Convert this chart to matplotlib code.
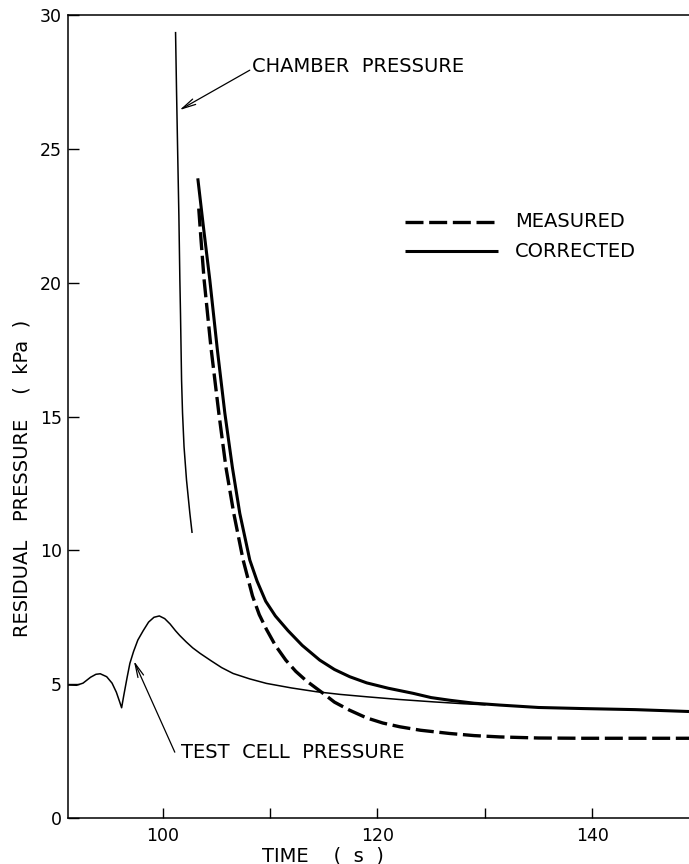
import matplotlib
matplotlib.use("Agg")
import matplotlib.pyplot as plt
from matplotlib.lines import Line2D

plt.rcParams["font.family"] = ["DejaVu Sans"]

# Chamber pressure trace (s, kPa)
chamber_t = [101.21, 101.30, 101.40, 101.52, 101.61, 101.67, 101.77, 101.86,
             102.00, 102.23, 102.54, 102.75]
chamber_p = [29.37, 27.20, 25.03, 22.50, 20.13, 18.85, 16.36, 15.13,
             13.87, 12.63, 11.39, 10.65]

# Test cell pressure trace
cell_t = [91.2, 92.0, 92.6, 93.3, 93.8, 94.2, 94.8, 95.3, 95.7, 96.0, 96.19,
          96.4, 96.7, 96.96, 97.3, 97.7, 98.2, 98.7, 99.2, 99.7, 100.2, 100.7,
          101.2, 101.6, 102.2, 102.8, 103.5, 104.5, 105.5, 106.57, 108.1,
          109.67, 112.0, 114.3, 116.5, 119.0, 122.0, 125.2, 128.0, 130.0]
cell_p = [4.97, 4.96, 5.04, 5.26, 5.37, 5.39, 5.28, 5.04, 4.70, 4.35, 4.12,
          4.60, 5.25, 5.78, 6.22, 6.65, 7.00, 7.32, 7.50, 7.55, 7.45, 7.25,
          7.00, 6.82, 6.58, 6.36, 6.15, 5.88, 5.62, 5.40, 5.20,
          5.03, 4.86, 4.72, 4.62, 4.53, 4.43, 4.34, 4.27, 4.23]

# Residual pressure, measured
measured_t = [103.37, 103.60, 103.87, 104.50, 105.24, 105.90, 106.63, 107.50,
              108.37, 109.00, 109.67, 110.50, 111.47, 112.40, 113.40, 114.94,
              116.00, 117.40, 119.00, 120.50, 122.07, 124.00, 126.70, 129.00,
              131.40, 135.00, 139.10, 149.00]
measured_p = [22.77, 21.50, 20.10, 17.60, 15.12, 13.10, 11.38, 9.64,
              8.30, 7.60, 7.05, 6.45, 5.90, 5.48, 5.12, 4.66,
              4.33, 4.03, 3.74, 3.55, 3.41, 3.28, 3.16, 3.08,
              3.03, 2.99, 2.98, 2.98]

# Residual pressure, corrected
corrected_t = [103.28, 103.80, 104.40, 105.10, 105.80, 106.50, 107.19, 108.12,
               108.80, 109.60, 110.50, 111.68, 113.00, 114.63, 116.00, 117.42,
               119.00, 121.00, 123.31, 125.00, 126.74, 129.00, 131.40, 135.00,
               139.10, 144.00, 149.00]
corrected_p = [23.90, 22.10, 20.10, 17.50, 15.12, 13.10, 11.38, 9.64,
               8.85, 8.10, 7.55, 7.00, 6.45, 5.90, 5.55, 5.28,
               5.05, 4.85, 4.66, 4.50, 4.40, 4.29, 4.22, 4.13,
               4.09, 4.05, 3.98]

x_ticks_major = [100, 120, 140]
x_ticks_minor = [110, 130]
y_ticks = [0, 5, 10, 15, 20, 25, 30]

fig = plt.figure(figsize=(6.89, 8.64), dpi=100)
ax = fig.add_axes([0.0987, 0.0532, 0.9013, 0.9294])

ax.plot(chamber_t, chamber_p, color="black", lw=1.1,
        solid_capstyle="butt", solid_joinstyle="round")
ax.plot(cell_t, cell_p, color="black", lw=1.1, solid_joinstyle="round")
ax.plot(measured_t, measured_p, color="black", lw=2.4,
        dashes=(5.4, 1.7), dash_capstyle="butt", dash_joinstyle="round")
ax.plot(corrected_t, corrected_p, color="black", lw=2.2,
        solid_capstyle="butt", solid_joinstyle="round")

ax.set_xlim(91.2, 149.0)
ax.set_ylim(0, 30)
ax.set_xticks(x_ticks_major)
ax.set_xticks(x_ticks_minor, minor=True)
ax.set_yticks(y_ticks)

ax.tick_params(axis="both", which="both", direction="in", width=1.0,
               labelsize=12.5, color="black")
ax.tick_params(axis="y", which="major", length=8, pad=4.5)
ax.tick_params(axis="x", which="both", length=7, pad=6.5)

for side in ("left", "bottom", "top"):
    ax.spines[side].set_linewidth(1.1)
ax.spines["right"].set_visible(False)

ax.set_xlabel("TIME    (  s  )", fontsize=14)
ax.xaxis.set_label_coords(0.41, -0.035)
ax.xaxis.label.set_va("top")

ax.set_ylabel("RESIDUAL   PRESSURE    (  kPa  )", fontsize=14)
ax.yaxis.label.set(ha="center", va="center", rotation_mode="anchor")
ax.yaxis.set_label_coords(-0.074, 0.423)

arrow = dict(arrowstyle="->,head_length=1.0,head_width=0.22", lw=0.9,
             color="black", shrinkA=0, shrinkB=0)
ax.annotate("", xy=(101.58, 26.45), xytext=(108.12, 27.94), arrowprops=arrow)
ax.text(108.3, 28.06, "CHAMBER  PRESSURE", fontsize=14, ha="left", va="center")

ax.annotate("", xy=(97.33, 5.87), xytext=(101.14, 2.46), arrowprops=arrow)
ax.text(101.76, 2.44, "TEST  CELL  PRESSURE", fontsize=14, ha="left", va="center")

# Key
ax.add_line(Line2D([0.5427, 0.6924], [0.7426, 0.7426], transform=ax.transAxes,
                   color="black", lw=2.4, dashes=(5.4, 1.7), dash_capstyle="butt"))
ax.add_line(Line2D([0.5427, 0.6924], [0.7061, 0.7061], transform=ax.transAxes,
                   color="black", lw=2.2, solid_capstyle="butt"))
ax.text(0.7198, 0.7426, "MEASURED", transform=ax.transAxes, fontsize=14,
        ha="left", va="center")
ax.text(0.7198, 0.7061, "CORRECTED", transform=ax.transAxes, fontsize=14,
        ha="left", va="center")

fig.savefig("out.png", dpi=100)
